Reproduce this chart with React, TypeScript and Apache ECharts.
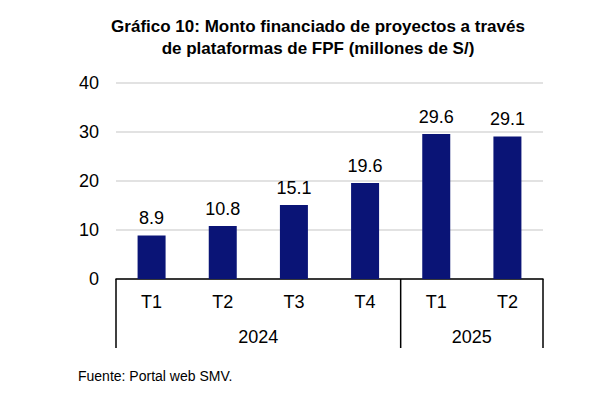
import React, { useEffect, useRef } from "react";
import * as echarts from "echarts";

const quarters = ["T1", "T2", "T3", "T4", "T1", "T2"];
const years = ["2024", "2025"];
const yearSpans = [4, 2];
const values = [8.9, 10.8, 15.1, 19.6, 29.6, 29.1];
const yTicks = [0, 10, 20, 30, 40];

const FONT = "Liberation Sans, Arial, sans-serif";

export default function App() {
  const ref = useRef<HTMLDivElement>(null);
  useEffect(() => {
    const chart = echarts.init(ref.current!, null, { renderer: "svg" });
    const option: any = {
      animation: false,
      backgroundColor: "#ffffff",
      title: {
        text: "Gráfico 10: Monto financiado de proyectos a través\nde plataformas de FPF (millones de S/)",
        left: 313,
        textAlign: "center",
        top: 10,
        textStyle: { fontFamily: FONT, fontSize: 17, fontWeight: "bold", color: "#000", lineHeight: 22 },
      },
      grid: { left: 116, right: 64, top: 83, bottom: 118 },
      xAxis: {
        type: "category",
        data: quarters.map((q, i) => q + "#" + i),
        axisLine: { show: true, lineStyle: { color: "#000", width: 1.5 } },
        axisTick: { show: false },
        axisLabel: {
          formatter: (v: string) => v.split("#")[0],
          fontFamily: FONT,
          fontSize: 18,
          color: "#000",
          margin: 14,
        },
      },
      yAxis: {
        type: "value",
        min: yTicks[0],
        max: yTicks[yTicks.length - 1],
        interval: 10,
        axisLine: { show: false },
        axisTick: { show: false },
        splitLine: { lineStyle: { color: "#d9d9d9", width: 1.5 } },
        axisLabel: { fontFamily: FONT, fontSize: 18, color: "#000", margin: 17 },
      },
      series: [
        {
          type: "bar",
          data: values,
          barWidth: 28,
          itemStyle: { color: "#0a1476" },
          label: {
            show: true,
            position: "top",
            distance: 8,
            fontFamily: FONT,
            fontSize: 18,
            color: "#000",
            formatter: (p: any) => p.value.toFixed(1),
          },
        },
      ],
    };
    chart.setOption(option);

    const yBase = chart.convertToPixel({ yAxisIndex: 0 }, 0) as number;
    const first = chart.convertToPixel({ xAxisIndex: 0 }, 0) as number;
    const second = chart.convertToPixel({ xAxisIndex: 0 }, 1) as number;
    const step = second - first;
    const leftEdge = first - step / 2;
    const boxBottom = yBase + 69;
    const graphics: any[] = [];
    let idx = 0;
    const boundaries: number[] = [leftEdge];
    years.forEach((y, i) => {
      const start = leftEdge + idx * step;
      idx += yearSpans[i];
      const end = leftEdge + idx * step;
      boundaries.push(end);
      graphics.push({
        type: "text",
        x: (start + end) / 2,
        y: yBase + 58,
        style: {
          text: y,
          fontFamily: FONT,
          fontSize: 18,
          fill: "#000",
          textAlign: "center",
          textVerticalAlign: "middle",
        },
      });
    });
    boundaries.forEach((bx) => {
      graphics.push({
        type: "line",
        shape: { x1: bx, y1: yBase, x2: bx, y2: boxBottom },
        style: { stroke: "#000", lineWidth: 1.5 },
      });
    });
    graphics.push({
      type: "text",
      x: 78,
      y: 376,
      style: {
        text: "Fuente: Portal web SMV.",
        fontFamily: FONT,
        fontSize: 14,
        fill: "#000",
        textVerticalAlign: "middle",
      },
    });
    chart.setOption({ graphic: graphics });

    return () => chart.dispose();
  }, []);
  return (
    <div
      ref={ref}
      style={{ position: "fixed", left: 0, top: 0, width: 607, height: 397 }}
    />
  );
}
